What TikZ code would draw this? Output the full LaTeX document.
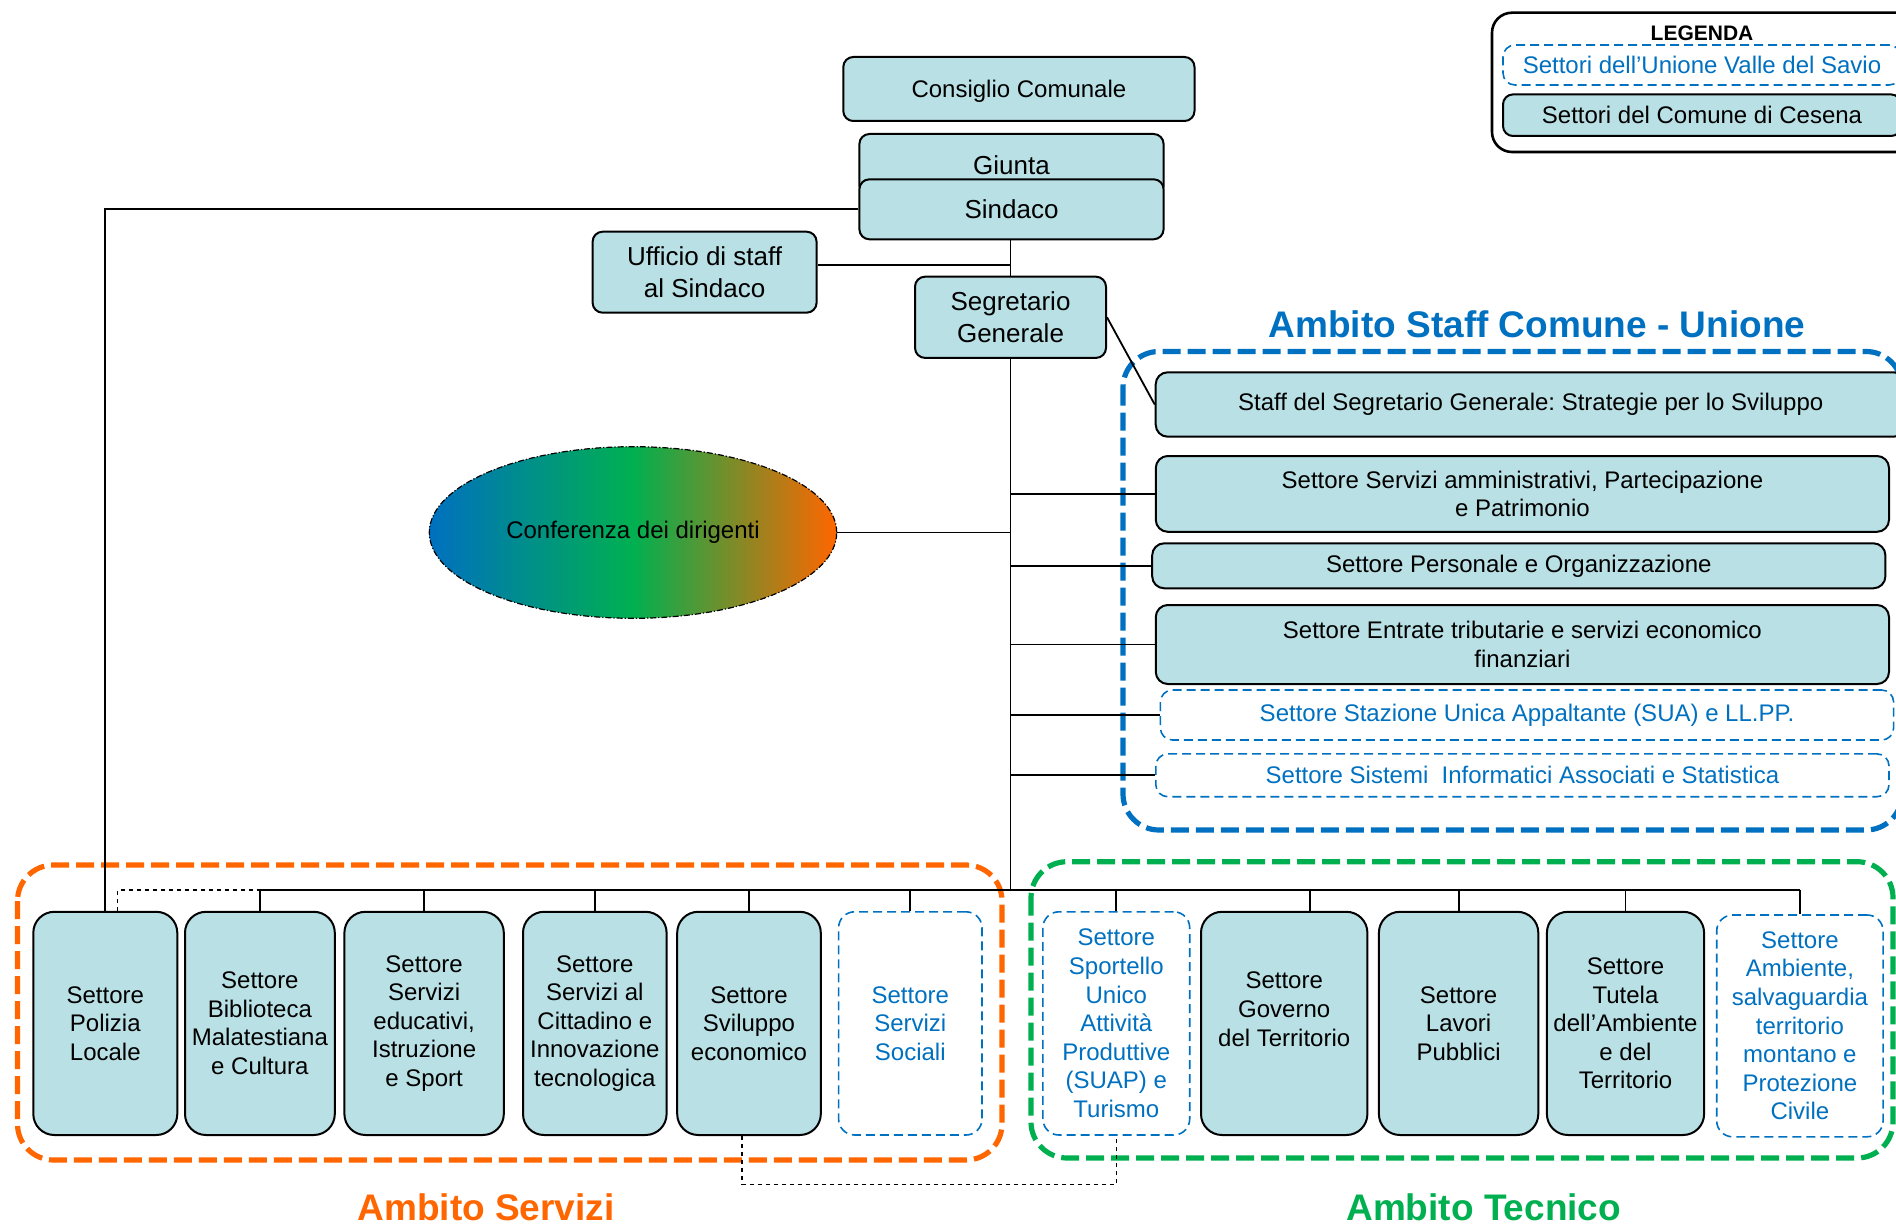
\documentclass[tikz,border=0pt]{standalone}
\usepackage{fontspec}
\setmainfont{Liberation Sans}
\usepackage{tikz}
\usetikzlibrary{shapes.geometric}
\frenchspacing

\definecolor{riquadro}{RGB}{185,224,228}
\definecolor{blu}{RGB}{0,112,192}
\definecolor{arancio}{RGB}{255,102,0}
\definecolor{verde}{RGB}{0,176,80}

\begin{document}
\begin{tikzpicture}[x=0.5pt,y=-0.5pt,
    comune/.style={draw,line width=1pt,fill=riquadro,rounded corners=5pt,align=center,inner sep=1pt,font=\fontsize{12}{14.2}\selectfont},
    unione/.style={draw=blu,line width=0.8pt,dash pattern=on 4.5pt off 2.5pt,rounded corners=6pt,text=blu,align=center,inner sep=1pt,font=\fontsize{12}{14.2}\selectfont},
    vertice/.style={comune,font=\fontsize{13}{15.8}\selectfont},
    fascia/.style={comune,rounded corners=6pt,minimum width=366.6pt},
    fasciaunione/.style={unione,minimum width=366.6pt},
    colonna/.style={comune,rounded corners=10.5pt,minimum height=111.6pt,inner sep=2pt,font=\fontsize{12}{14.3}\selectfont},
    colonnaunione/.style={unione,rounded corners=8pt,minimum height=111.6pt,inner sep=2pt,font=\fontsize{12}{14.3}\selectfont},
    riunione/.style={ellipse,draw,line width=0.6pt,dash pattern=on 3pt off 1pt on 0.6pt off 1pt,left color=blu,right color=arancio,middle color=verde,minimum width=203.7pt,minimum height=85.8pt,inner sep=0pt,font=\fontsize{12}{14.2}\selectfont},
    ambito/.style={line width=2.6pt,dash pattern=on 9pt off 3.5pt,rounded corners=18pt},
    titolo/.style={font=\fontsize{18.5}{22}\selectfont\bfseries},
    linea/.style={line width=0.9pt},
    collegamento/.style={line width=0.8pt,dash pattern=on 2pt off 2pt}]

    \path[use as bounding box] (0,0) rectangle (1896,1225);
    \clip (0,0) rectangle (1896,1225);

    \draw[ambito,blu] (1123,351.5) rectangle (1902,830);
    \draw[ambito,arancio] (17.5,865) rectangle (1002,1160);
    \draw[ambito,verde] (1031,861.7) rectangle (1893,1158);

    \node (titolostaff) at (1537,324.5) [titolo,text=blu] {Ambito Staff Comune - Unione};
    \node (titoloservizi) at (486,1207.5) [titolo,text=arancio] {Ambito Servizi};
    \node (titolotecnico) at (1483.7,1207) [titolo,text=verde] {Ambito Tecnico};

    \draw[line width=1.3pt,rounded corners=10pt] (1492,12.7) rectangle (1930,152);
    \node (legenda) at (1702,33) [font=\fontsize{10.5}{12}\selectfont\bfseries] {LEGENDA};
    \node (legunione) at (1702,65) [unione,minimum width=199pt,minimum height=20pt] {Settori dell’Unione Valle del Savio};
    \node (legcomune) at (1702,115.2) [comune,minimum width=199pt,minimum height=20.8pt] {Settori del Comune di Cesena};

    \node (consiglio) at (1018.9,89) [comune,minimum width=175.6pt,minimum height=32pt,text depth=0pt] {Consiglio Comunale};
    \node (giunta) at (1011.5,165) [vertice,minimum width=152.1pt,minimum height=31pt] {Giunta};
    \node (sindaco) at (1011.5,209.3) [vertice,minimum width=152.1pt,minimum height=30pt] {Sindaco};
    \node (ufficio) at (704.6,272.2) [vertice,minimum width=112pt,minimum height=40.5pt] {Ufficio di staff\\al Sindaco};
    \node (segretario) at (1010.5,317.3) [vertice,minimum width=95.5pt,minimum height=40.6pt] {Segretario\\Generale};

    \node (conferenza) at (633,532.5) [riunione] {Conferenza dei dirigenti};

    \node (staff) at (1530.7,404.5) [fascia,minimum width=375pt,minimum height=32.2pt] {Staff del Segretario Generale: Strategie per lo Sviluppo};
    \node (amministrativi) at (1522.4,493.9) [fascia,minimum height=37.9pt] {Settore Servizi amministrativi, Partecipazione\\e Patrimonio};
    \node (personale) at (1518.8,565.8) [fascia,minimum height=22.5pt] {Settore Personale e Organizzazione};
    \node (entrate) at (1522.4,644.5) [fascia,minimum height=39.5pt] {Settore Entrate tributarie e servizi economico\\finanziari};
    \node (sua) at (1527,715) [fasciaunione,minimum height=25pt] {Settore Stazione Unica Appaltante (SUA) e LL.PP.};
    \node (sistemi) at (1522.4,775.3) [fasciaunione,minimum height=21.4pt] {Settore Sistemi~ Informatici Associati e Statistica};

    \node (polizia) at (105.3,1023.4) [colonna,minimum width=72pt] {Settore\\Polizia\\Locale};
    \node (biblioteca) at (259.9,1023.4) [colonna,minimum width=74.9pt] {Settore\\Biblioteca\\Malatestiana\\e Cultura};
    \node (educativi) at (424.1,1023.4) [colonna,minimum width=79.7pt] {Settore\\Servizi\\educativi,\\Istruzione\\e Sport};
    \node (cittadino) at (594.8,1023.4) [colonna,minimum width=71.8pt] {Settore\\Servizi al\\Cittadino e\\Innovazione\\tecnologica};
    \node (sviluppo) at (749,1023.4) [colonna,minimum width=71.8pt] {Settore\\Sviluppo\\economico};
    \node (sociali) at (910.3,1023.4) [colonnaunione,minimum width=71.7pt] {Settore\\Servizi\\Sociali};
    \node (sportello) at (1116.3,1023.4) [colonnaunione,minimum width=73.4pt] {Settore\\Sportello\\Unico\\Attività\\Produttive\\(SUAP) e\\Turismo};
    \node (governo) at (1284.2,1023.4) [colonna,minimum width=83.2pt] {Settore\\Governo\\del Territorio\\\mbox{}};
    \node (lavori) at (1458.6,1023.4) [colonna,minimum width=79.7pt] {Settore\\Lavori\\Pubblici};
    \node (tutela) at (1625.5,1023.4) [colonna,minimum width=78.6pt] {Settore\\Tutela\\dell’Ambiente\\e del\\Territorio};
    \node (ambiente) at (1799.9,1025.9) [colonnaunione,minimum width=83.2pt,minimum height=110.9pt] {Settore\\Ambiente,\\salvaguardia\\territorio\\montano e\\Protezione\\Civile};

    \coordinate (bus) at (0,890);
    \coordinate (fondo) at (0,1184.3);
    \coordinate (uff) at ([yshift=3.5pt]ufficio.east);
    \coordinate (gov) at ([xshift=13pt]governo.north);

    \draw[linea] (sindaco.west) -| (polizia.north);
    \draw[linea] (segretario.north |- sindaco.south) -- (segretario.north);
    \draw[linea] (uff) -- (uff -| segretario.north);
    \draw[linea] (segretario.east) -- (staff.west);
    \draw[linea] (segretario.south) -- (segretario.south |- bus);
    \draw[linea] (conferenza.east) -- (conferenza.east -| segretario.south);

    \draw[linea] (amministrativi.west -| segretario.south) -- (amministrativi.west);
    \draw[linea] (personale.west -| segretario.south) -- (personale.west);
    \draw[linea] (entrate.west -| segretario.south) -- (entrate.west);
    \draw[linea] (sua.west -| segretario.south) -- (sua.west);
    \draw[linea] (sistemi.west -| segretario.south) -- (sistemi.west);

    \draw[linea] (biblioteca.north |- bus) -- (ambiente.north |- bus);
    \draw[linea] (biblioteca.north) -- (biblioteca.north |- bus);
    \draw[linea] (educativi.north) -- (educativi.north |- bus);
    \draw[linea] (cittadino.north) -- (cittadino.north |- bus);
    \draw[linea] (sviluppo.north) -- (sviluppo.north |- bus);
    \draw[linea] (sociali.north) -- (sociali.north |- bus);
    \draw[linea] (sportello.north) -- (sportello.north |- bus);
    \draw[linea] (gov) -- (gov |- bus);
    \draw[linea] (lavori.north) -- (lavori.north |- bus);
    \draw[linea] (tutela.north) -- (tutela.north |- bus);
    \draw[linea] (ambiente.north) -- (ambiente.north |- bus);

    \draw[collegamento] ([xshift=6pt]polizia.north) |- (biblioteca.north |- bus);
    \draw[collegamento] ([xshift=-3.6pt]sviluppo.south) |- (sportello.south |- fondo) -- (sportello.south);
\end{tikzpicture}
\end{document}
